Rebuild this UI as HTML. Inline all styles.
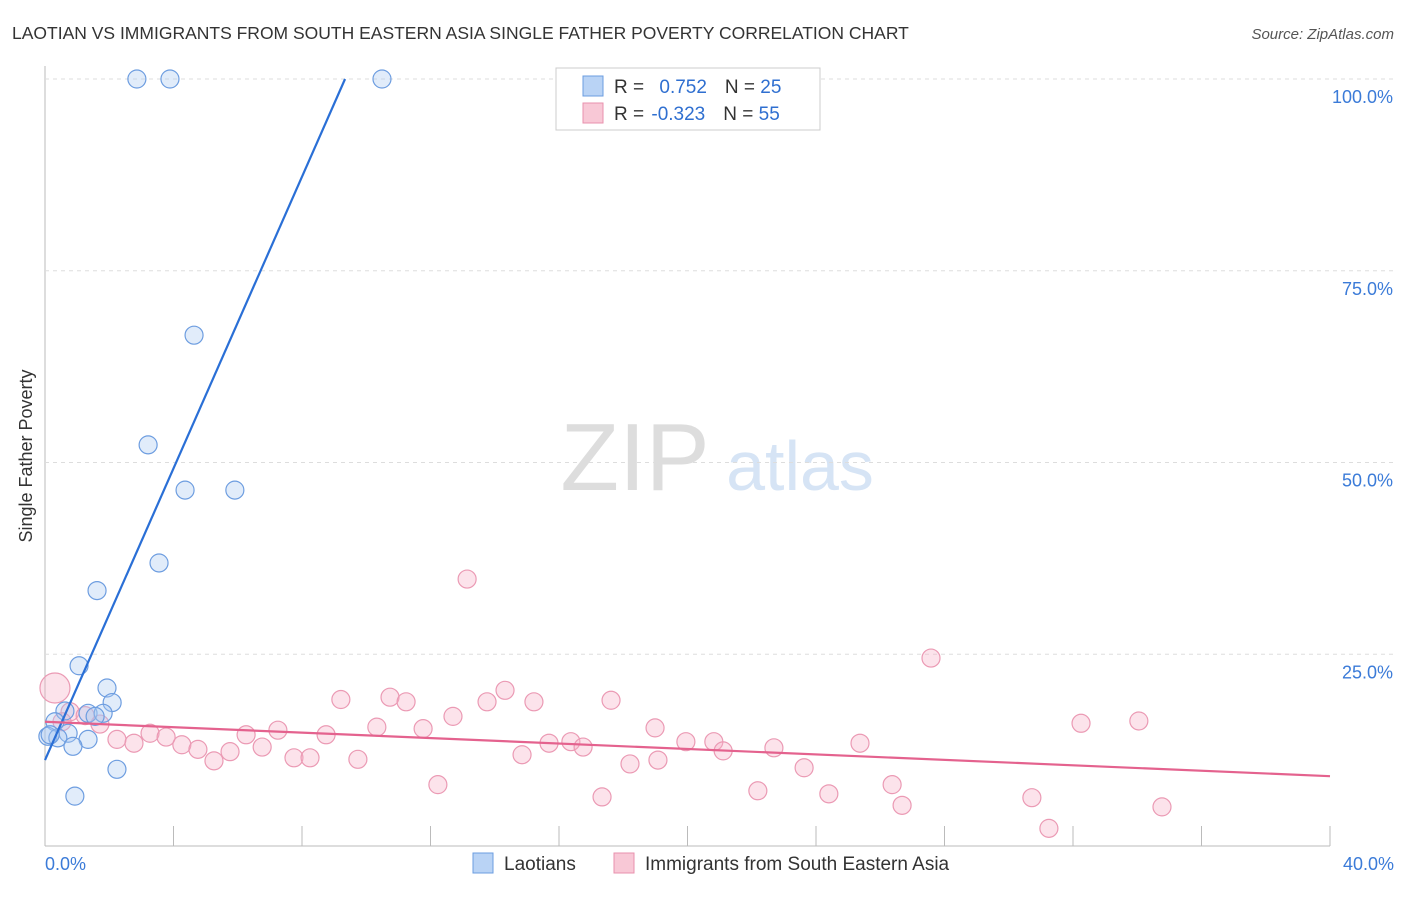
<!DOCTYPE html>
<html><head><meta charset="utf-8"><style>
body{margin:0;background:#fff;font-family:"Liberation Sans",sans-serif;}
svg text{font-family:"Liberation Sans",sans-serif;}
</style></head><body>
<svg id="c" width="1406" height="892">
<text x="12" y="39" font-size="17.5" fill="#333">LAOTIAN VS IMMIGRANTS FROM SOUTH EASTERN ASIA SINGLE FATHER POVERTY CORRELATION CHART</text>
<text x="1394" y="39" font-size="15" fill="#555" text-anchor="end" font-style="italic">Source: ZipAtlas.com</text>
<text x="32" y="456" font-size="18" fill="#333" text-anchor="middle" transform="rotate(-90 32 456)">Single Father Poverty</text>
<text x="635" y="490" font-size="96" fill="#ddd" text-anchor="middle" font-family="Liberation Serif">ZIP</text>
<text x="800" y="490" font-size="70" fill="#d6e4f5" text-anchor="middle">atlas</text>
<g id="grid"></g><g id="marks"></g>
<g>
<rect x="556" y="68" width="264" height="62" fill="#fff" stroke="#ccc"/>
<rect x="583" y="76" width="20" height="20" fill="#b9d3f5" stroke="#6b9de0"/>
<rect x="583" y="103" width="20" height="20" fill="#f8c8d6" stroke="#e891ad"/>
<text x="614" y="93" font-size="19" fill="#333">R = <tspan fill="#2f6fd0" dx="10">0.752</tspan><tspan fill="#333" dx="18">N = </tspan><tspan fill="#2f6fd0">25</tspan></text>
<text x="614" y="120" font-size="19" fill="#333">R = <tspan fill="#2f6fd0" dx="2">-0.323</tspan><tspan fill="#333" dx="18">N = </tspan><tspan fill="#2f6fd0">55</tspan></text>
</g>
<g>
<rect x="473" y="853" width="20" height="20" fill="#b9d3f5" stroke="#6b9de0"/>
<text x="504" y="870" font-size="19" fill="#333">Laotians</text>
<rect x="614" y="853" width="20" height="20" fill="#f8c8d6" stroke="#e891ad"/>
<text x="645" y="870" font-size="19" fill="#333">Immigrants from South Eastern Asia</text>
</g>
</svg>
<script>
const xTicks=[0,4,8,12,16,20,24,28,32,36,40];
const yTicks=[25,50,75,100];
const blueX=[2.86,3.89,10.49,4.64,3.21,4.36,5.91,3.55,1.62,1.06,1.93,2.09,1.34,1.81,0.62,1.56,0.31,0.72,0.09,0.40,1.34,0.87,2.24,0.93,0.16];
const blueY=[100,100,100,66.6,52.3,46.4,46.4,36.9,33.3,23.5,20.6,18.7,17.3,17.3,17.6,16.9,16.2,14.7,14.3,14.1,13.9,13.0,10.0,6.5,14.5];
const pinkX=[0.31,0.78,1.71,2.24,2.77,3.27,3.77,4.26,4.76,5.26,5.76,6.26,6.76,7.25,7.75,8.25,8.75,9.21,9.74,10.33,10.74,11.24,11.77,12.23,12.70,13.14,13.76,14.32,14.85,15.22,15.69,16.37,16.75,17.34,17.62,18.21,18.99,19.08,19.95,20.82,21.11,22.19,22.69,23.63,24.40,25.37,26.37,26.68,27.58,30.72,31.25,32.25,34.05,34.77,0.53,1.25];
const pinkY=[20.6,17.5,15.9,13.9,13.4,14.7,14.2,13.2,12.6,11.1,12.3,14.5,12.9,15.1,11.5,11.5,14.5,19.1,11.3,15.5,19.4,18.8,15.3,8.0,16.9,34.8,18.8,20.3,11.9,18.8,13.4,13.6,12.9,6.4,19.0,10.7,15.4,11.2,13.6,13.6,12.4,7.2,12.8,10.2,6.8,13.4,8.0,5.3,24.5,6.3,2.3,16.0,16.3,5.1,16.2,17.0];
const blueTrend=[[0,11.2],[9.34,100]];
const pinkTrend=[[0,16.2],[40,9.1]];
const NS='http://www.w3.org/2000/svg';
const X=v=>45+v*1285/40, Y=v=>846-v*7.67;
function mk(t,a,p){const e=document.createElementNS(NS,t);for(const k in a)e.setAttribute(k,a[k]);p.appendChild(e);return e;}
const g=document.getElementById('grid'),m=document.getElementById('marks');
const ax=mk('line',{x1:45,y1:66,x2:45,y2:846,stroke:'#bbb'},g);


const bx=mk('line',{x1:45,y1:846,x2:1330,y2:846,stroke:'#bbb'},g);


yTicks.forEach(v=>{const l=mk('line',{x1:45,y1:Y(v),x2:1395,y2:Y(v),stroke:'#ddd','stroke-dasharray':'4,4'},g);


const t=mk('text',{x:1393,y:Y(v)+24,'font-size':18,fill:'#3b7bd8','text-anchor':'end'},g);t.textContent=v.toFixed(1)+'%';

});
xTicks.forEach((v,i)=>{const l=mk('line',{x1:X(v),y1:826,x2:X(v),y2:846,stroke:'#bbb'},g);


if(i==0||i==xTicks.length-1){const t=mk('text',{x:i==0?X(v):X(v)+64,y:870,'font-size':18,fill:'#3b7bd8','text-anchor':i==0?'start':'end'},g);t.textContent=v.toFixed(1)+'%';

}});
pinkX.forEach((v,i)=>{const c=mk('circle',{cx:X(v),cy:Y(pinkY[i]),r:i==0?15:9,fill:'rgba(245,175,198,0.35)',stroke:'#eb9ab4','stroke-width':1.2},m);

});
blueX.forEach((v,i)=>{const c=mk('circle',{cx:X(v),cy:Y(blueY[i]),r:9,fill:'rgba(170,200,240,0.35)',stroke:'#6d9de0','stroke-width':1.2},m);

});
const bl=mk('line',{x1:X(blueTrend[0][0]),y1:Y(blueTrend[0][1]),x2:X(blueTrend[1][0]),y2:Y(blueTrend[1][1]),stroke:'#2a6fd6','stroke-width':2.2},m);


const pl=mk('line',{x1:X(pinkTrend[0][0]),y1:Y(pinkTrend[0][1]),x2:X(pinkTrend[1][0]),y2:Y(pinkTrend[1][1]),stroke:'#e4628e','stroke-width':2.2},m);


</script>
</body></html>
